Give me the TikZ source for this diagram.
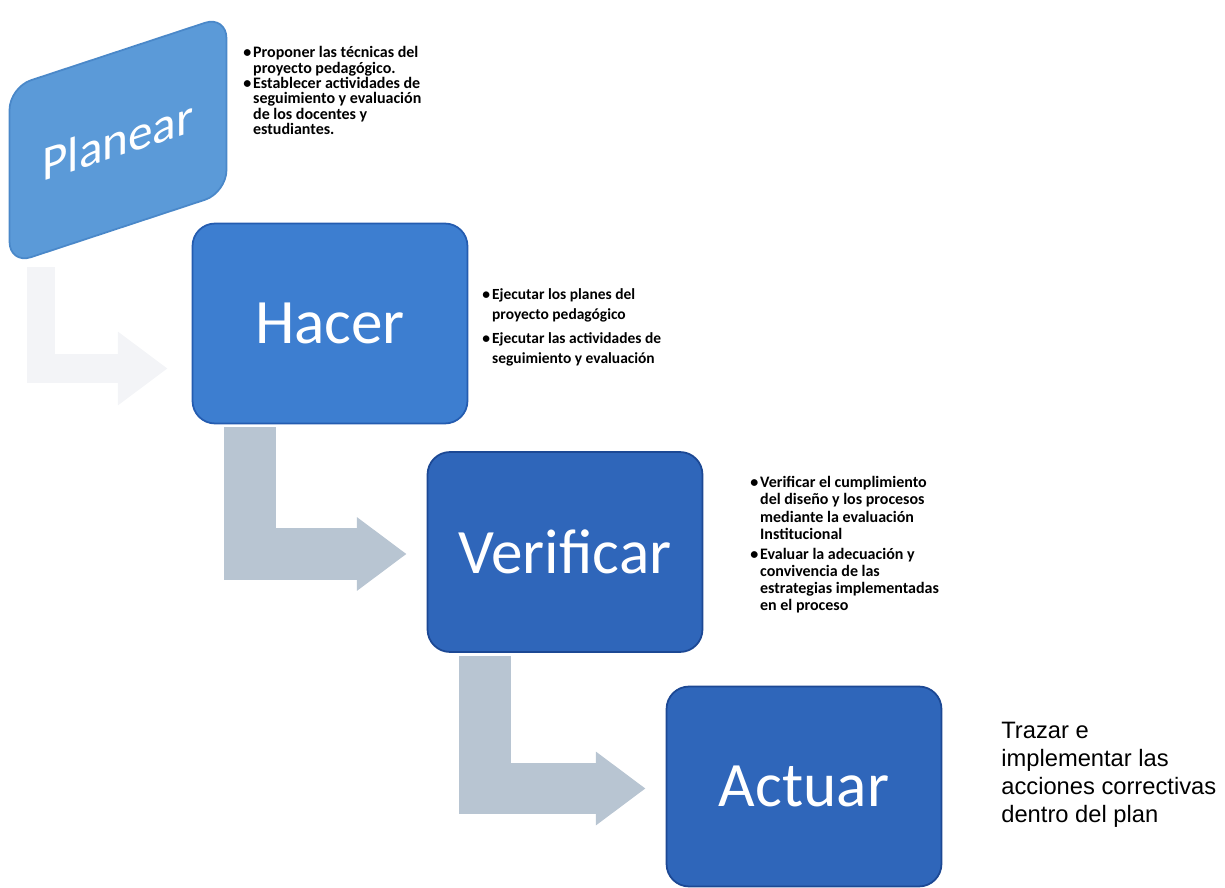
\documentclass[tikz,border=0pt]{standalone}
\usepackage{fontspec}
\setmainfont{Carlito}
\newfontfamily\arialfont{Liberation Sans}
\usetikzlibrary{arrows.meta,calc}
\definecolor{planearblue}{HTML}{5B9AD8}
\definecolor{planearedge}{HTML}{4A88C9}
\definecolor{hacerblue}{HTML}{3D7ED0}
\definecolor{induedge}{HTML}{245CB0}
\definecolor{darkblue}{HTML}{2F66BA}
\definecolor{darkedge}{HTML}{1C4894}
\definecolor{arrowgrey}{HTML}{B8C5D2}
\definecolor{faintgrey}{HTML}{F3F4F7}
\newcommand{\bul}{\makebox[5.6pt][l]{\textbullet}}
\newcommand{\hang}{\hspace*{5.6pt}}
\tikzset{
  phase/.style={rectangle, rounded corners=0.45cm, line width=1pt, text=white,
    font=\fontsize{36}{40}\selectfont, minimum width=5.5cm, minimum height=4cm, inner sep=0pt},
  notes/.style={anchor=north west, align=left, inner sep=0pt},
  bentarrow/.style={draw=#1, line width=29.5pt, line join=miter,
    -{Triangle[length=28.3pt, width=40pt]}},
  bentarrow/.default=arrowgrey
}

\begin{document}
\begin{tikzpicture}[x=0.02cm,y=-0.02cm]
  \useasboundingbox (0,0) rectangle (1225,888);
  % the four phases
  \node[phase, fill=planearblue, draw=planearedge, yslant=0.33,
        minimum width=4.34cm, minimum height=3.54cm,
        font=\fontsize{28}{32}\selectfont] (planear) at (118,140) {Planear};
  \node[phase, fill=hacerblue, draw=induedge] (hacer) at (330,323.5) {Hacer};
  \node[phase, fill=darkblue, draw=darkedge] (verificar) at (565,552) {Verificar};
  \node[phase, fill=darkblue, draw=darkedge] (actuar) at (804,786.5) {Actuar};

  % bent arrows
  \draw[bentarrow=faintgrey, line width=16pt] ($(planear.south west)+(32,2)$)
        |- ($(hacer.west)+(-24,45)$);
  \foreach \a/\b in {hacer/verificar, verificar/actuar}{
    \draw[bentarrow] ($(\a.south west)+(58,3)$) |- ($(\b.west)+(-20,2)$);
  };

  % notes
  \node[notes, font=\bfseries\fontsize{9.1}{8.8}\selectfont] (planeartxt) at (243,46)
    {\bul Proponer las técnicas del\\ \hang proyecto pedagógico.\\
     \bul Establecer actividades de\\ \hang seguimiento y evaluación\\
     \hang de los docentes y\\ \hang estudiantes.};
  \node[notes, font=\bfseries\fontsize{8.8}{11.3}\selectfont] (hacertxt) at (482,288)
    {\bul Ejecutar los planes del\\ \hang proyecto pedagógico\\[2.5pt]
     \bul Ejecutar las actividades de\\ \hang seguimiento y evaluación};
  \node[notes, font=\bfseries\fontsize{9.1}{9.8}\selectfont] (verificartxt) at (750,476)
    {\bul Verificar el cumplimiento\\ \hang del diseño y los procesos\\
     \hang mediante la evaluación\\ \hang Institucional\\[1.5pt]
     \bul Evaluar la adecuación y\\ \hang convivencia de las\\
     \hang estrategias implementadas\\ \hang en el proceso};
  \node[notes, font=\arialfont\fontsize{13.5}{15.9}\selectfont] (actuartxt) at (1001,722)
    {Trazar e\\ implementar las\\ acciones correctivas\\ dentro del plan};
\end{tikzpicture}
\end{document}
